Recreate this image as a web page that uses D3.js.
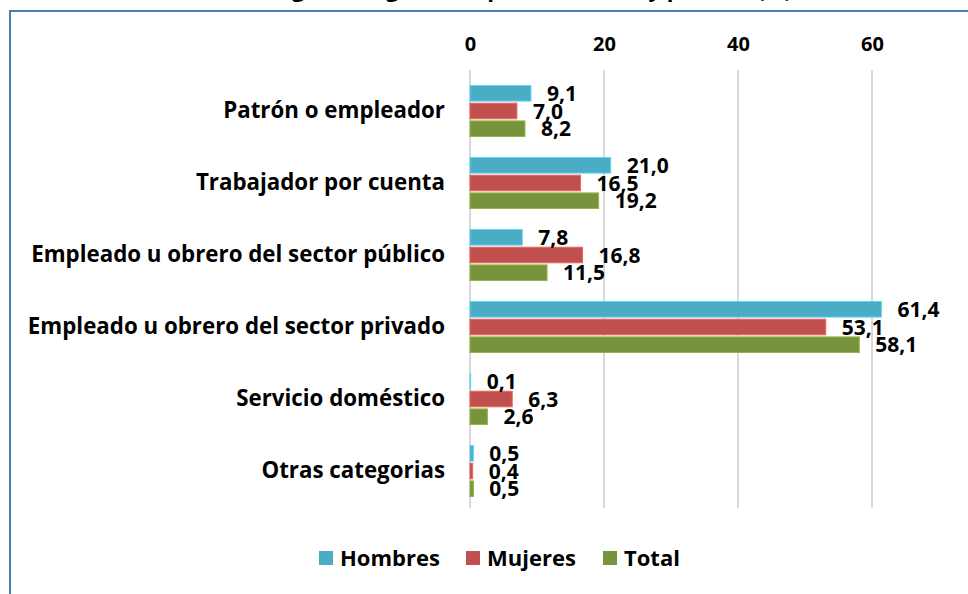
<!DOCTYPE html>
<html>
<head>
<meta charset="utf-8">
<script src="https://cdn.jsdelivr.net/npm/d3@7"></script>
<style>
  body { margin: 0; background: #fff; }
  svg { display: block; font-family: "Open Sans", sans-serif; font-weight: bold; }
</style>
</head>
<body>
<svg id="chart" width="968" height="594"></svg>
<script>
const categories = [
  'Patrón o empleador',
  'Trabajador por cuenta',
  'Empleado u obrero del sector público',
  'Empleado u obrero del sector privado',
  'Servicio doméstico',
  'Otras categorias'
]
const seriesNames = ['Hombres', 'Mujeres', 'Total']
const hombres = [9.1, 21.0, 7.8, 61.4, 0.1, 0.5]
const mujeres = [7.0, 16.5, 16.8, 53.1, 6.3, 0.4]
const total = [8.2, 19.2, 11.5, 58.1, 2.6, 0.5]
const tickValues = [0, 20, 40, 60]
const colors = ['#4bacc6', '#c0504d', '#77933c']
const title = 'Distribución según categoría ocupacional, sexo y período (%)'

const svg = d3.select('#chart')
const font = '"Open Sans", sans-serif'

// frame of the chart area (only left and top edges are visible)
svg.append('rect')
  .attr('x', 10).attr('y', 11)
  .attr('width', 1100).attr('height', 700)
  .attr('fill', '#fff')
  .attr('stroke', '#4a7ebb')
  .attr('stroke-width', 2)

// title, mostly cut off above the frame
svg.append('text')
  .attr('x', 792).attr('y', -3)
  .attr('text-anchor', 'end')
  .style('font-size', '22px')
  .text(title)

const x = d3.scaleLinear().domain([0, 70]).range([470, 939])
const y = d3.scaleBand().domain(categories).range([75, 507])
  .paddingInner(21 / 72).paddingOuter(21 / 144)
const ySub = d3.scaleBand().domain(seriesNames).range([0, y.bandwidth()]).paddingInner(0.12)

// gridlines
svg.append('g')
  .selectAll('line')
  .data(tickValues)
  .enter().append('line')
  .attr('x1', d => x(d)).attr('x2', d => x(d))
  .attr('y1', 70).attr('y2', 508)
  .attr('stroke', '#d9d9d9')
  .attr('stroke-width', 2)

// top axis labels
const axis = svg.append('g')
  .attr('transform', 'translate(0,51)')
  .call(d3.axisTop(x).tickValues(tickValues).tickSize(0).tickPadding(0))
axis.select('.domain').remove()
axis.selectAll('text')
  .style('font-size', '20px')
  .style('font-family', font)
  .style('font-weight', 'bold')
  .attr('fill', '#000')

// category labels
const yAxis = svg.append('g')
  .attr('transform', 'translate(445,0)')
  .call(d3.axisLeft(y).tickSize(0).tickPadding(0))
yAxis.select('.domain').remove()
yAxis.selectAll('text')
  .style('font-size', '22.3px')
  .style('font-family', font)
  .style('font-weight', 'bold')
  .attr('fill', '#000')

const rows = categories.map((c, i) => ({
  cat: c,
  vals: [hombres[i], mujeres[i], total[i]]
}))

const groups = svg.append('g')
  .selectAll('g')
  .data(rows)
  .enter().append('g')
  .attr('transform', d => 'translate(0,' + y(d.cat) + ')')

groups.selectAll('rect')
  .data(d => d.vals.map((v, j) => ({ v, s: seriesNames[j], j })))
  .enter().append('rect')
  .attr('x', x(0))
  .attr('y', d => ySub(d.s))
  .attr('width', d => x(d.v) - x(0))
  .attr('height', ySub.bandwidth())
  .attr('fill', d => colors[d.j])
  .attr('stroke', d => d3.color(colors[d.j]).brighter(0.6))
  .attr('stroke-width', 1)

groups.selectAll('text.val')
  .data(d => d.vals.map((v, j) => ({ v, s: seriesNames[j], j })))
  .enter().append('text')
  .attr('class', 'val')
  .attr('x', d => x(d.v) + 16)
  .attr('y', d => ySub(d.s) + ySub.bandwidth() / 2)
  .attr('dy', '0.36em')
  .style('font-size', '21px')
  .text(d => d.v.toFixed(1).replace('.', ','))

// legend
const legendX = [319, 466, 603]
const legend = svg.append('g')
  .selectAll('g')
  .data(seriesNames)
  .enter().append('g')
  .attr('transform', (d, i) => 'translate(' + legendX[i] + ',551)')
legend.append('rect')
  .attr('width', 14).attr('height', 14)
  .attr('fill', (d, i) => colors[i])
legend.append('text')
  .attr('x', 21).attr('y', 7)
  .attr('dy', '0.36em')
  .style('font-size', '22px')
  .text(d => d)
</script>
</body>
</html>
